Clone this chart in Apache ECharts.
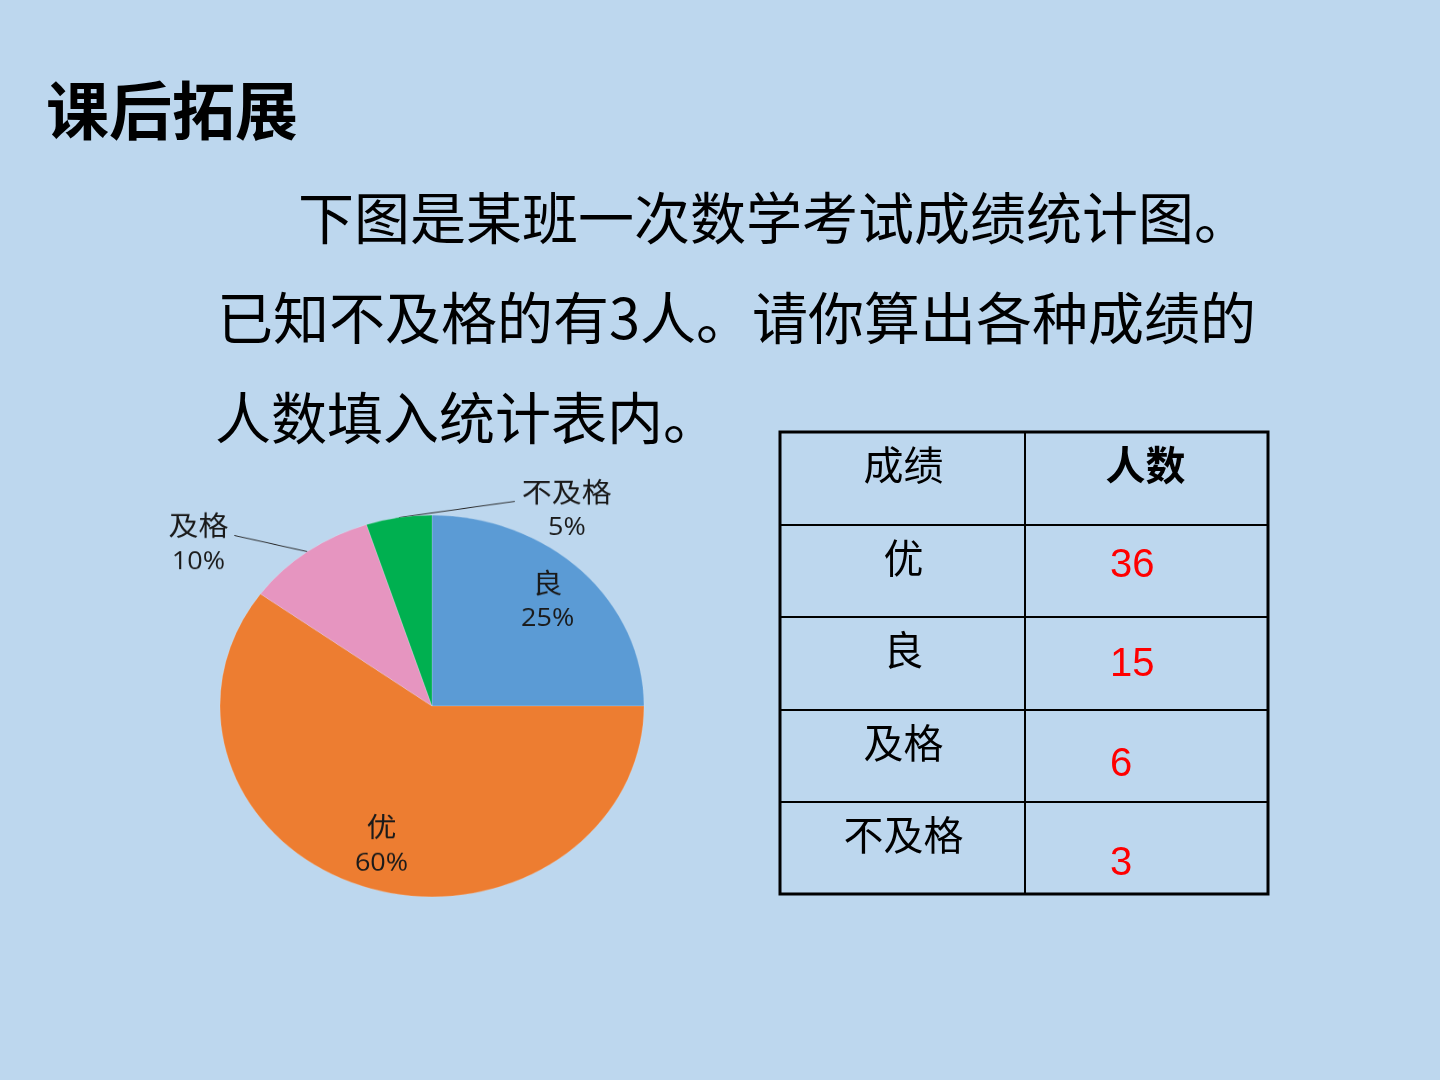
<!DOCTYPE html>
<html><head><meta charset="utf-8">
<script src="https://cdn.jsdelivr.net/npm/echarts@6/dist/echarts.min.js"></script>
<style>
html,body{margin:0;padding:0;background:#BDD7EE;overflow:hidden;}
#bg{position:absolute;left:0;top:0;width:1440px;height:1080px;}
#pie{position:absolute;left:132px;top:406px;width:600px;height:600px;transform:scaleY(0.9);transform-origin:300px 300px;}
</style></head><body>
<div id="bg"></div><div id="pie"></div>
<script>
// ---- data ----
const titleText = '课后拓展';
const paragraphLines = ['下图是某班一次数学考试成绩统计图。', '已知不及格的有3人。请你算出各种成绩的', '人数填入统计表内。'];
const pieCategories = ['良', '优', '及格', '不及格'];
const piePercents = [25, 60, 10, 5];
const pieColors = ['#5B9BD5', '#ED7D31', '#E695C0', '#00B050'];
const tableHeaders = ['成绩', '人数'];
const tableCategories = ['优', '良', '及格', '不及格'];
const tableCounts = [36, 15, 6, 3];

// ---- layout ----
const CJK = '"Noto Sans CJK SC", "Noto Sans", sans-serif';
const paraPos = [[298, 218], [217, 318], [215, 418]];
const tbl = {x0: 780, x1: 1268, xm: 1025, rows: [432, 525, 617, 710, 802, 894]};

function txt(x, y, text, font, fill, align) {
  return {type: 'text', x: x, y: y, z: 10,
    style: {text: text, font: font, fill: fill || '#000',
      align: align || 'left', verticalAlign: 'middle',
      textAlign: align || 'left', textVerticalAlign: 'middle'}};
}
function line(x1, y1, x2, y2, w) {
  return {type: 'line', z: 5, shape: {x1: x1, y1: y1, x2: x2, y2: y2},
    style: {stroke: '#000', lineWidth: w}};
}

const g = [];
g.push(txt(46, 110, titleText, 'bold 63px ' + CJK, '#000'));
paragraphLines.forEach((t, i) => g.push(txt(paraPos[i][0], paraPos[i][1], t, '56px ' + CJK, '#000')));

// table grid
for (let i = 1; i < tbl.rows.length - 1; i++) g.push(line(tbl.x0, tbl.rows[i], tbl.x1, tbl.rows[i], 2));
g.push(line(tbl.xm, tbl.rows[0], tbl.xm, tbl.rows[tbl.rows.length - 1], 2));
g.push({type: 'rect', z: 6, shape: {x: tbl.x0, y: tbl.rows[0], width: tbl.x1 - tbl.x0, height: tbl.rows[tbl.rows.length - 1] - tbl.rows[0]},
  style: {fill: 'none', stroke: '#000', lineWidth: 3}});
const c1 = (tbl.x0 + tbl.xm) / 2 + 1, c2 = (tbl.xm + tbl.x1) / 2 - 1;
g.push(txt(c1, tbl.rows[0] + 33, tableHeaders[0], '40px ' + CJK, '#000', 'center'));
g.push(txt(c2, tbl.rows[0] + 33, tableHeaders[1], 'bold 40px ' + CJK, '#000', 'center'));
tableCategories.forEach((c, i) => {
  g.push(txt(c1, tbl.rows[i + 1] + 33, c, '40px ' + CJK, '#000', 'center'));
  g.push(txt(1110, tbl.rows[i + 1] + 41 + i * 7, String(tableCounts[i]), '40px "Liberation Sans", Arial, sans-serif', '#FF0000', 'left'));
});

const bg = echarts.init(document.getElementById('bg'), null, {renderer: 'canvas'});
bg.setOption({backgroundColor: '#BDD7EE', animation: false, graphic: {elements: g}});

// ---- pie ----
const insideScale = 1.5;
const outsidePlace = {
  '及格': {dx: -109, dy: -9, lx: 36, ly: -9},
  '不及格': {dx: 168, dy: -9, lx: -52, ly: -9}
};
const pie = echarts.init(document.getElementById('pie'), null, {renderer: 'canvas'});
pie.setOption({
  animation: false,
  series: [{
    type: 'pie', center: [300, 300], radius: [0, 212], startAngle: 90, clockwise: true,
    silent: true, avoidLabelOverlap: false,
    itemStyle: {borderColor: 'rgba(255,255,255,0.35)', borderWidth: 0.5},
    data: pieCategories.map((n, i) => ({
      name: n, value: piePercents[i], itemStyle: {color: pieColors[i]},
      label: {position: i < 2 ? 'inside' : 'outside'},
      labelLine: {show: i >= 2}
    })),
    label: {
      formatter: p => '{c|' + p.name + '}\n{n|' + p.value + '%}',
      align: 'center',
      color: '#1a1a1a',
      rich: {
        c: {fontSize: 30, fontFamily: CJK, color: '#1a1a1a', lineHeight: 41, align: 'center'},
        n: {fontSize: 27, fontFamily: '"Open Sans", "Noto Sans", sans-serif', color: '#1a1a1a', lineHeight: 41, align: 'center'}
      }
    },
    labelLine: {length: 10, length2: 10, lineStyle: {color: '#222', width: 1}},
    labelLayout: function (p) {
      const i = p.dataIndex;
      const r = p.labelRect;
      if (i < 2) {
        const cx = r.x + r.width / 2, cy = r.y + r.height / 2;
        return {x: 300 + (cx - 300) * insideScale, y: 300 + (cy - 300) * insideScale, align: 'center', verticalAlign: 'middle'};
      }
      const p0 = p.labelLinePoints[0];
      const o = outsidePlace[pieCategories[i]];
      const lx = p0[0] + o.dx, ly = p0[1] + o.dy;
      const e = [lx + o.lx, ly + o.ly];
      return {x: lx, y: ly, align: 'center', verticalAlign: 'middle', labelLinePoints: [p0, e, e]};
    }
  }]
});
</script>
</body></html>
